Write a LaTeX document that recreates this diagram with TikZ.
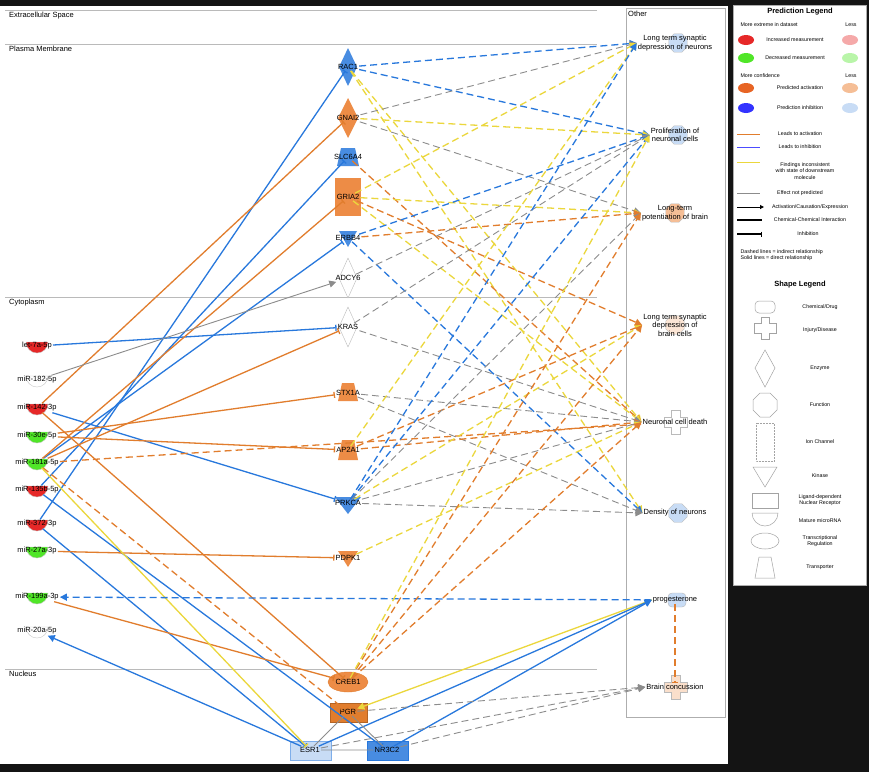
\documentclass[tikz,border=0pt]{standalone}
\usepackage{fontspec}
\setmainfont{Liberation Sans}
\usetikzlibrary{arrows.meta,shapes.geometric}
\definecolor{bl}{RGB}{40,120,220}
\definecolor{og}{RGB}{225,125,45}
\definecolor{yl}{RGB}{235,215,60}
\definecolor{gy}{RGB}{140,140,140}
\definecolor{rd}{RGB}{230,40,40}
\definecolor{gn}{RGB}{80,230,40}
\definecolor{lb}{RGB}{200,220,245}
\definecolor{lo}{RGB}{245,190,150}
\definecolor{ob}{RGB}{237,140,70}
\begin{document}
\begin{tikzpicture}[x=1pt,y=-1pt,font=\fontsize{7.5}{8.5}\selectfont,
 lbl/.style={inner sep=1pt},
 e/.style={line width=1.3pt},
 inh/.style={e,-{Bar[width=6pt]}},
 act/.style={e,-{Triangle[length=7pt,width=7pt]}},
 dsh/.style={dash pattern=on 7pt off 4pt},
 leg/.style={font=\fontsize{5.3}{6.3}\selectfont},
 cmp/.style={font=\fontsize{7.5}{9}\selectfont,anchor=north west,inner sep=1pt}]
\fill[black!92] (0,0) rectangle (869,772);
\useasboundingbox (0,0) rectangle (869,772);
\fill[white] (0,6) rectangle (728,764);
% compartments
\draw[gy!60] (5,10) -- (597,10) (5,44) -- (597,44) (5,297) -- (597,297) (5,669) -- (597,669);
\node[cmp] at (8,11) {Extracellular Space};
\node[cmp] at (8,45) {Plasma Membrane};
\node[cmp] at (8,298) {Cytoplasm};
\node[cmp] at (8,670) {Nucleus};
\draw[gy!70,fill=white] (626,8) rectangle (725,717);
\node[cmp] at (627,10) {Other};
% central shapes
\fill[bl!85] (348,48) -- (357,67) -- (348,86) -- (339,67) -- cycle;
\fill[ob] (348,98) -- (358,118) -- (348,138) -- (338,118) -- cycle;
\fill[bl!85] (341,148) -- (355,148) -- (359,166) -- (337,166) -- cycle;
\fill[ob] (335,178) rectangle (361,216);
\fill[bl!85] (339,231) -- (357,231) -- (348,247) -- cycle;
\draw[gy!60,fill=white] (348,258) -- (357,278) -- (348,298) -- (339,278) -- cycle;
\draw[gy!60,fill=white] (348,307) -- (357,327) -- (348,347) -- (339,327) -- cycle;
\fill[ob] (342,383) -- (354,383) -- (358,401) -- (338,401) -- cycle;
\fill[ob] (342,440) -- (354,440) -- (358,460) -- (338,460) -- cycle;
\fill[bl!85] (335,497) -- (361,497) -- (348,514) -- cycle;
\fill[ob] (338,551) -- (358,551) -- (348,567) -- cycle;
\draw[og,fill=ob] (348,682) ellipse (20pt and 10pt);
\draw[og!80!black,fill=og] (330,703) rectangle (367,722);
\draw[bl!60,fill=lb] (290,741) rectangle (331,760);
\draw[bl,fill=bl!85] (367,741) rectangle (408,760);
\node[lbl] (RAC1) at (348,67) {RAC1};
\node[lbl] (GNAI2) at (348,118) {GNAI2};
\node[lbl] (SLC) at (348,157) {SLC6A4};
\node[lbl] (GRIA2) at (348,197) {GRIA2};
\node[lbl] (ERBB4) at (348,238) {ERBB4};
\node[lbl] (ADCY6) at (348,278) {ADCY6};
\node[lbl] (KRAS) at (348,327) {KRAS};
\node[lbl] (STX) at (348,393) {STX1A};
\node[lbl] (AP2) at (348,450) {AP2A1};
\node[lbl] (PRKCA) at (348,503) {PRKCA};
\node[lbl] (PDPK1) at (348,558) {PDPK1};
\node[lbl] (CREB1) at (348,682) {CREB1};
\node[lbl] (PGR) at (348,712) {PGR};
\node[lbl] (ESR1) at (310,750) {ESR1};
\node[lbl] (NR3C2) at (387,750) {NR3C2};
% miRNAs
\foreach \y/\c in {346/rd,380/white,408/rd,436/gn,463/gn,490/rd,524/rd,551/gn,597/gn,631/white}
  \draw[gy!50,fill=\c] (26,\y-4) -- (48,\y-4) arc[start angle=0,end angle=-180,radius=11pt] -- cycle;
\node[lbl] (let7) at (37,346) {let-7a-5p};
\node[lbl] (m182) at (37,380) {miR-182-5p};
\node[lbl] (m142) at (37,408) {miR-142-3p};
\node[lbl] (m30) at (37,436) {miR-30e-5p};
\node[lbl] (m181) at (37,463) {miR-181a-5p};
\node[lbl] (m135) at (37,490) {miR-135b-5p};
\node[lbl] (m372) at (37,524) {miR-372-3p};
\node[lbl] (m27) at (37,551) {miR-27a-3p};
\node[lbl] (m199) at (37,597) {miR-199a-3p};
\node[lbl] (m20) at (37,631) {miR-20a-5p};
% right functions
\tikzset{oct/.style={regular polygon,regular polygon sides=8,minimum size=20pt,inner sep=0pt,draw=gy!60}}
\node[oct,fill=lb] at (678,43) {};
\node[oct,fill=lb] at (678,135) {};
\node[oct,fill=lo] at (675,213) {};
\node[oct,fill=lo!40] at (675,325) {};
\node[oct,fill=lb] at (678,513) {};
\draw[gy!60,fill=white] (671,410) -- (680,410) -- (680,417) -- (687,417) -- (687,427) -- (680,427) -- (680,434) -- (671,434) -- (671,427) -- (664,427) -- (664,417) -- (671,417) -- cycle;
\draw[gy!60,fill=lo!50] (671,675) -- (680,675) -- (680,682) -- (687,682) -- (687,692) -- (680,692) -- (680,699) -- (671,699) -- (671,692) -- (664,692) -- (664,682) -- (671,682) -- cycle;
\draw[gy!60,fill=lb,rounded corners=4pt] (668,593) rectangle (686,607);
\node[lbl,align=center] (F1) at (675,43) {Long term synaptic\\depression of neurons};
\node[lbl,align=center] (F2) at (675,135) {Proliferation of\\neuronal cells};
\node[lbl,align=center] (F3) at (675,213) {Long-term\\potentiation of brain};
\node[lbl,align=center] (F4) at (675,325) {Long term synaptic\\depression of\\brain cells};
\node[lbl] (F5) at (675,422) {Neuronal cell death};
\node[lbl] (F6) at (675,513) {Density of neurons};
\node[lbl] (F7) at (675,600) {progesterone};
\node[lbl] (F8) at (675,687) {Brain concussion};
% miRNA -> target edges
\draw[inh,bl] (m372) -- (RAC1);
\draw[inh,bl] (m135) -- (SLC);
\draw[inh,bl] (m181) -- (ERBB4);
\draw[inh,bl] (let7) -- (KRAS);
\draw[inh,bl] (m142) -- (PRKCA);
\draw[inh,bl] (m135) -- (NR3C2);
\draw[inh,bl] (m372) -- (ESR1);
\draw[act,bl] (ESR1) -- (m20);
\draw[inh,og] (m142) -- (GNAI2);
\draw[inh,og] (m181) -- (GRIA2);
\draw[inh,og] (m181) -- (KRAS);
\draw[inh,og] (m30) -- (STX);
\draw[inh,og] (m30) -- (AP2);
\draw[inh,og] (m27) -- (PDPK1);
\draw[inh,og] (m142) -- (CREB1);
\draw[inh,og] (m199) -- (CREB1);
\draw[inh,og,dsh] (m181) -- (PGR);
\draw[inh,yl] (m181) -- (ESR1);
\draw[act,og,dsh] (m181) -- (F5);
\draw[act,gy,line width=0.9pt] (m182) -- (ADCY6);
\draw[act,bl,dsh] (F7) -- (m199);
% target -> function
\draw[act,bl,dsh] (RAC1) -- (F1.west);
\draw[act,bl,dsh] (RAC1) -- (F2.west);
\draw[act,yl,dsh] (RAC1) -- (F5.west);
\draw[act,yl,dsh] (RAC1) -- (F6.west);
\draw[act,gy,dsh,line width=0.9pt] (GNAI2) -- (F1.west);
\draw[act,gy,dsh,line width=0.9pt] (GNAI2) -- (F3.west);
\draw[act,yl,dsh] (GNAI2) -- (F2.west);
\draw[act,og,dsh] (SLC) -- (F5.west);
\draw[act,yl,dsh] (GRIA2) -- (F1.west);
\draw[act,yl,dsh] (GRIA2) -- (F3.west);
\draw[act,og,dsh] (GRIA2) -- (F4.west);
\draw[act,yl,dsh] (GRIA2) -- (F5.west);
\draw[act,bl,dsh] (ERBB4) -- (F2.west);
\draw[act,og,dsh] (ERBB4) -- (F3.west);
\draw[act,bl,dsh] (ERBB4) -- (F6.west);
\draw[act,gy,dsh,line width=0.9pt] (ADCY6) -- (F2.west);
\draw[act,gy,dsh,line width=0.9pt] (KRAS) -- (F2.west);
\draw[act,gy,dsh,line width=0.9pt] (KRAS) -- (F5.west);
\draw[act,gy,dsh,line width=0.9pt] (STX) -- (F5.west);
\draw[act,gy,dsh,line width=0.9pt] (STX) -- (F6.west);
\draw[act,og,dsh] (AP2) -- (F5.west);
\draw[act,yl,dsh] (AP2) -- (F1.west);
\draw[act,og,dsh] (AP2) -- (F4.west);
\draw[act,bl,dsh] (PRKCA) -- (F1.west);
\draw[act,bl,dsh] (PRKCA) -- (F2.west);
\draw[act,yl,dsh] (PRKCA) -- (F4.west);
\draw[act,gy,dsh,line width=0.9pt] (PRKCA) -- (F3.west);
\draw[act,gy,dsh,line width=0.9pt] (PRKCA) -- (F5.west);
\draw[act,gy,dsh,line width=0.9pt] (PRKCA) -- (F6.west);
\draw[act,yl,dsh] (PDPK1) -- (F5.west);
\draw[act,og,dsh] (CREB1) -- (F3.west);
\draw[act,og,dsh] (CREB1) -- (F4.west);
\draw[act,og,dsh] (CREB1) -- (F5.west);
\draw[act,yl,dsh] (CREB1) -- (F2.west);
\draw[act,yl] (F7.west) -- (PGR);
\draw[act,bl] (NR3C2) -- (F7.west);
\draw[act,bl] (ESR1) -- (F7.west);
\draw[inh,og,dsh] (F7) -- (F8);
\draw[act,gy,dsh,line width=0.9pt] (PGR) -- (F8.west);
\draw[act,gy,dsh,line width=0.9pt] (ESR1) -- (F8.west);
\draw[act,gy,dsh,line width=0.9pt] (NR3C2) -- (F8.west);
\draw[gy,line width=0.9pt] (PGR) -- (ESR1) (PGR) -- (NR3C2) (ESR1) -- (NR3C2);
% legend
\draw[gy!70,fill=white] (733,5) rectangle (866,585);
\node[font=\bfseries\fontsize{7.5}{9}\selectfont] at (800,12) {Prediction Legend};
\node[leg,anchor=west] at (737,25) {More extreme in dataset};
\node[leg] at (851,25) {Less};
\fill[rd] (746,40) ellipse (8pt and 5pt); \fill[rd!40] (850,40) ellipse (8pt and 5pt);
\node[leg] at (795,40) {Increased measurement};
\fill[gn] (746,58) ellipse (8pt and 5pt); \fill[gn!40] (850,58) ellipse (8pt and 5pt);
\node[leg] at (795,58) {Decreased measurement};
\node[leg,anchor=west] at (737,76) {More confidence};
\node[leg] at (851,76) {Less};
\fill[og!80!red] (746,88) ellipse (8pt and 5pt); \fill[lo] (850,88) ellipse (8pt and 5pt);
\node[leg] at (800,88) {Predicted activation};
\fill[blue!80] (746,108) ellipse (8pt and 5pt); \fill[lb] (850,108) ellipse (8pt and 5pt);
\node[leg] at (800,108) {Prediction inhibition};
\draw[og,line width=1pt] (737,134) -- (760,134); \node[leg] at (800,134) {Leads to activation};
\draw[blue!70,line width=1pt] (737,147) -- (760,147); \node[leg] at (800,147) {Leads to inhibition};
\draw[yl,line width=1pt] (737,162) -- (760,162); \node[leg,align=center] at (805,171) {Findings inconsistent\\with state of downstream\\molecule};
\draw[gy,line width=1pt] (737,193) -- (760,193); \node[leg] at (800,193) {Effect not predicted};
\draw[-{Triangle[length=4pt,width=4pt]},line width=1pt] (737,207) -- (764,207); \node[leg] at (810,207) {Activation/Causation/Expression};
\draw[line width=1.2pt] (737,220) -- (762,220); \node[leg] at (810,220) {Chemical-Chemical Interaction};
\draw[line width=1.2pt,-{Bar[width=5pt]}] (737,234) -- (762,234); \node[leg] at (808,234) {Inhibition};
\node[leg,align=left,anchor=west] at (737,255) {Dashed lines = indirect relationship\\Solid lines = direct relationship};
\node[font=\bfseries\fontsize{7.5}{9}\selectfont] at (800,285) {Shape Legend};
\begin{scope}[gy!80,line width=0.5pt]
\draw[rounded corners=4pt] (755,301) rectangle (775,313);
\draw (761,317) -- (769,317) -- (769,323) -- (776,323) -- (776,333) -- (769,333) -- (769,339) -- (761,339) -- (761,333) -- (754,333) -- (754,323) -- (761,323) -- cycle;
\draw (765,350) -- (775,368) -- (765,387) -- (755,368) -- cycle;
\node[regular polygon,regular polygon sides=8,draw,minimum size=26pt,inner sep=0pt] at (765,405) {};
\draw[densely dotted] (756,423) rectangle (774,461);
\draw (753,467) -- (777,467) -- (765,487) -- cycle;
\draw (752,493) rectangle (778,508);
\draw (752,513) -- (778,513) arc[start angle=0,end angle=-180,radius=13pt];
\draw (765,541) ellipse (14pt and 8pt);
\draw (759,557) -- (771,557) -- (775,578) -- (755,578) -- cycle;
\end{scope}
\node[leg] at (820,307) {Chemical/Drug};
\node[leg] at (820,330) {Injury/Disease};
\node[leg] at (820,368) {Enzyme};
\node[leg] at (820,405) {Function};
\node[leg] at (820,442) {Ion Channel};
\node[leg] at (820,476) {Kinase};
\node[leg,align=center] at (820,500) {Ligand-dependent\\Nuclear Receptor};
\node[leg] at (820,521) {Mature microRNA};
\node[leg,align=center] at (820,541) {Transcriptional\\Regulation};
\node[leg] at (820,567) {Transporter};
\end{tikzpicture}
\end{document}
